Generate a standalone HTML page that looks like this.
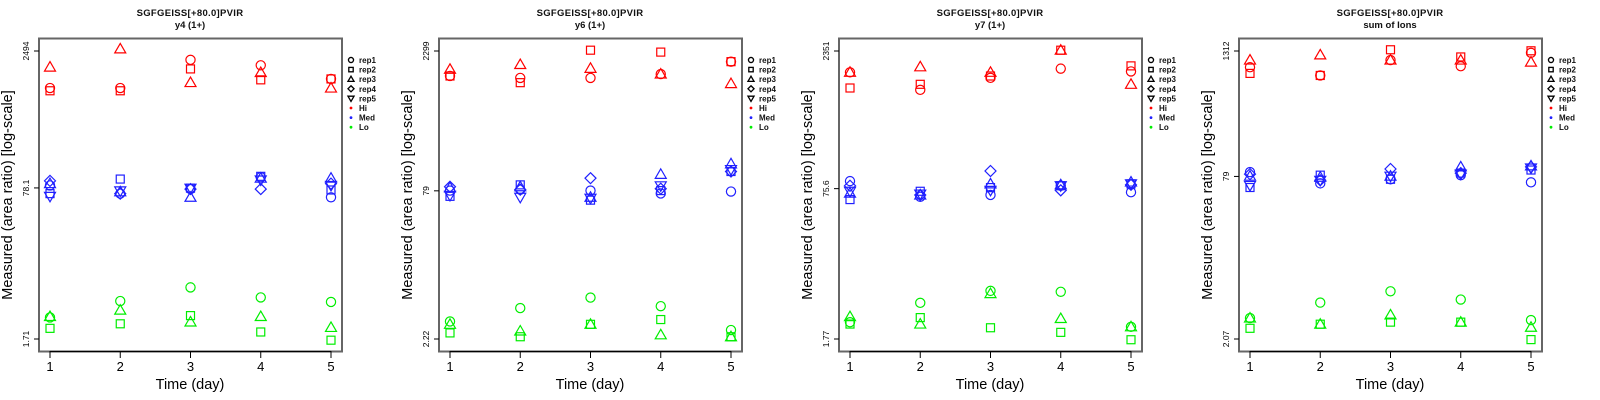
<!DOCTYPE html>
<html><head><meta charset="utf-8">
<style>
html,body{margin:0;padding:0;background:#fff;}
svg{display:block;font-family:"Liberation Sans",sans-serif;}
</style></head>
<body>
<svg id="chart" width="1600" height="400" viewBox="0 0 1600 400" xmlns="http://www.w3.org/2000/svg"></svg>
<script>
// ---- data (log10 of measured area ratio) ----
const days = [1, 2, 3, 4, 5];
const panelTitles = ["y4 (1+)", "y6 (1+)", "y7 (1+)", "sum of Ions"];
const peptide = "SGFGEISS[+80.0]PVIR";
const tickTop = [2494, 2299, 2351, 1312];
const tickMid = [78.1, 79, 75.6, 79];
const tickBot = [1.71, 2.22, 1.77, 2.07];
const repNames = ["rep1", "rep2", "rep3", "rep4", "rep5"];
const levelNames = ["Hi", "Med", "Lo"];

// panel 1 (y4)
const p1Hi = [[2.99,2.96,3.22],[2.99,2.96,3.42],[3.30,3.20,3.05],[3.24,3.08,3.16],[3.09,3.09,2.99]];
const p1Med = [[1.92,1.83,1.94,1.97,1.80],[1.83,1.99,1.85,1.83,1.86],[1.88,1.89,1.79,1.88,1.89],[2.01,2.02,2.00,1.88,1.98],[1.79,1.87,2.00,1.94,1.92]];
const p1Lo = [[0.47,0.35,0.48],[0.65,0.40,0.55],[0.80,0.49,0.42],[0.69,0.31,0.48],[0.64,0.22,0.36]];
// panel 2 (y6)
const p2Hi = [[3.10,3.10,3.17],[3.08,3.03,3.22],[3.08,3.37,3.18],[3.12,3.35,3.12],[3.25,3.25,3.02]];
const p2Med = [[1.90,1.84,1.93,1.94,1.85],[1.91,1.96,1.94,1.91,1.83],[1.90,1.80,1.83,2.03,1.82],[1.87,1.90,2.07,1.92,1.95],[1.89,2.10,2.18,2.10,2.12]];
const p2Lo = [[0.53,0.41,0.50],[0.67,0.37,0.43],[0.78,0.50,0.50],[0.69,0.55,0.39],[0.44,0.37,0.37]];
// panel 3 (y7)
const p3Hi = [[3.14,2.97,3.14],[2.95,3.01,3.20],[3.08,3.10,3.14],[3.18,3.38,3.38],[3.15,3.21,3.01]];
const p3Med = [[1.96,1.76,1.83,1.91,1.85],[1.79,1.85,1.81,1.81,1.82],[1.81,1.89,1.93,2.07,1.86],[1.91,1.91,1.92,1.86,1.91],[1.84,1.93,1.95,1.92,1.93]];
const p3Lo = [[0.43,0.41,0.49],[0.64,0.48,0.41],[0.77,0.37,0.74],[0.76,0.32,0.47],[0.38,0.24,0.38]];
// panel 4 (sum of ions)
const p4Hi = [[2.96,2.90,3.03],[2.88,2.88,3.08],[3.03,3.13,3.03],[2.97,3.06,3.03],[3.10,3.12,3.01]];
const p4Med = [[1.94,1.79,1.90,1.92,1.81],[1.83,1.91,1.89,1.86,1.86],[1.87,1.87,1.90,1.97,1.90],[1.91,1.93,1.99,1.93,1.92],[1.84,1.96,2.00,1.99,1.98]];
const p4Lo = [[0.52,0.42,0.52],[0.67,0.46,0.46],[0.78,0.48,0.55],[0.70,0.48,0.48],[0.50,0.31,0.43]];

const panelsHi = [p1Hi, p2Hi, p3Hi, p4Hi];
const panelsMed = [p1Med, p2Med, p3Med, p4Med];
const panelsLo = [p1Lo, p2Lo, p3Lo, p4Lo];

// ---- drawing ----
const NS = "http://www.w3.org/2000/svg";
const svg = document.getElementById("chart");
const colors = {Hi:"#ff0000", Med:"#2020ff", Lo:"#00ee00"};
function mk(tag, attrs, parent){
  const e = document.createElementNS(NS, tag);
  for (const k in attrs) e.setAttribute(k, attrs[k]);
  (parent||svg).appendChild(e);
  return e;
}
function marker(g, shape, cx, cy, col){
  const st = {fill:"none", stroke:col, "stroke-width":1.2};
  let e;
  if (shape===0){ e = mk("circle", Object.assign({cx:cx, cy:cy, r:4.6}, st), g); }
  else if (shape===1){ e = mk("rect", Object.assign({x:cx-4, y:cy-4, width:8, height:8}, st), g); }
  else if (shape===2){ e = mk("polygon", Object.assign({points:`${cx},${cy-5.5} ${cx+5.5},${cy+4} ${cx-5.5},${cy+4}`}, st), g); }
  else if (shape===3){ e = mk("polygon", Object.assign({points:`${cx},${cy-5.5} ${cx+5.5},${cy} ${cx},${cy+5.5} ${cx-5.5},${cy}`}, st), g); }
  else { e = mk("polygon", Object.assign({points:`${cx},${cy+5.5} ${cx+5.5},${cy-4} ${cx-5.5},${cy-4}`}, st), g); }
  return e;
}

for (let p = 0; p < 4; p++){
  const ox = p*400;
  const g = mk("g", {transform:`translate(${ox},0)`});
  
  
  const lt = Math.log10(tickTop[p]), lb = Math.log10(tickBot[p]);
  const yS = v => 51 + (lt - v)/(lt - lb)*288;
  const xS = d => 50 + (d-1)*70.25;

  // titles
  const t1 = mk("text", {x:190, y:16, "text-anchor":"middle", "font-size":9.5, "font-weight":"bold", fill:"#111", "letter-spacing":"0.3"}, g);
  t1.textContent = peptide;
  
  
  const t2 = mk("text", {x:190, y:28, "text-anchor":"middle", "font-size":9.5, "font-weight":"bold", fill:"#111"}, g);
  t2.textContent = panelTitles[p];
  
  

  // box
  const box = mk("rect", {x:39, y:38.5, width:303, height:313, fill:"none", stroke:"#666", "stroke-width":2}, g);
  
  
  mk("line", {x1:xS(1), x2:xS(5), y1:351.5, y2:351.5, stroke:"#000", "stroke-width":1.2}, g);

  // x ticks
  days.forEach(d => {
    mk("line", {x1:xS(d), x2:xS(d), y1:351, y2:358, stroke:"#000", "stroke-width":1}, g);
    const tl = mk("text", {x:xS(d), y:371, "text-anchor":"middle", "font-size":13, fill:"#000"}, g);
    tl.textContent = d;
    
    
  });
  const xt = mk("text", {x:190, y:389, "text-anchor":"middle", "font-size":14.5, fill:"#000"}, g);
  xt.textContent = "Time (day)";
  
  

  // y ticks
  [tickTop[p], tickMid[p], tickBot[p]].forEach(v => {
    const y = yS(Math.log10(v));
    mk("line", {x1:34, x2:39, y1:y, y2:y, stroke:"#000", "stroke-width":1}, g);
    const tl = mk("text", {x:0, y:0, "text-anchor":"middle", "font-size":8.5, fill:"#000", transform:`translate(29,${y}) rotate(-90)`}, g);
    tl.textContent = v;
    
    
  });
  const yt = mk("text", {x:0, y:0, "text-anchor":"middle", "font-size":14.5, fill:"#000", transform:"translate(12,195) rotate(-90)"}, g);
  yt.textContent = "Measured (area ratio) [log-scale]";
  
  

  // points
  const groups = [[panelsHi[p],"Hi"],[panelsMed[p],"Med"],[panelsLo[p],"Lo"]];
  groups.forEach(([arr, lvl]) => {
    arr.forEach((vals, di) => {
      vals.forEach((v, ri) => {
        const m = marker(g, ri, xS(days[di]), yS(v), colors[lvl]);
        
        
      });
    });
  });

  // legend
  const lg = mk("g", {}, g);
  
  
  repNames.forEach((n, i) => {
    const y = 60 + i*9.6;
    const s = 0.55;
    const mg = mk("g", {transform:`translate(351,${y}) scale(${s})`}, lg);
    marker(mg, i, 0, 0, "#000").setAttribute("stroke-width", 2.4);
    const tx = mk("text", {x:359, y:y+3, "font-size":8, "font-weight":"bold", fill:"#111"}, lg);
    tx.textContent = n;
    
    
  });
  levelNames.forEach((n, i) => {
    const y = 60 + (5+i)*9.6;
    mk("circle", {cx:351, cy:y, r:1.4, fill:colors[n]}, lg);
    const tx = mk("text", {x:359, y:y+3, "font-size":8, "font-weight":"bold", fill:"#111"}, lg);
    tx.textContent = n;
    
    
  });
}
</script>
</body></html>
